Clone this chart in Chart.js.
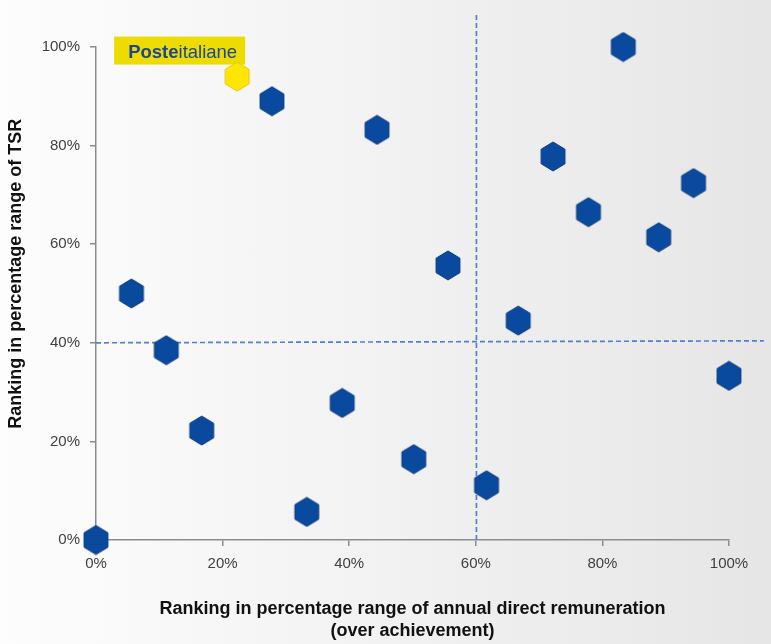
<!DOCTYPE html>
<html>
<head>
<meta charset="utf-8">
<script src="https://cdn.jsdelivr.net/npm/chart.js@4.4.1/dist/chart.umd.min.js"></script>
<style>
    html, body { margin: 0; padding: 0; }
    body {
        width: 771px; height: 644px; overflow: hidden;
        background: linear-gradient(to right, #fdfdfd 0%, #f3f3f3 45%, #e6e6e6 100%);
    }
    #wrap { position: relative; width: 771px; height: 644px; }
</style>
</head>
<body>
<div id="wrap"><canvas id="rankChart" width="771" height="644"></canvas></div>
<script>
// peers: ranking on remuneration (x) and TSR (y)
const peerRemuneration = [0, 0.056, 0.111, 0.167, 0.278, 0.333, 0.389, 0.444, 0.502, 0.556, 0.617, 0.667, 0.722, 0.778, 0.833, 0.889, 0.944, 1.0];
const peerTsr = [0, 0.50, 0.385, 0.222, 0.89, 0.057, 0.278, 0.832, 0.164, 0.557, 0.111, 0.445, 0.778, 0.665, 1.0, 0.614, 0.724, 0.333];

// Poste Italiane
const posteRemuneration = [0.223];
const posteTsr = [0.94];

// median reference lines
const tsrLineX = [0, 1.055];
const tsrLineY = [0.400, 0.404];
const remLineX = [0.601, 0.601];
const remLineY = [0, 1.069];

const tickValues = [0, 0.2, 0.4, 0.6, 0.8, 1.0];

const xTitle = ['Ranking in percentage range of annual direct remuneration', '(over achievement)'];
const yTitle = 'Ranking in percentage range of TSR';
const logoBold = 'Poste';
const logoLight = 'italiane';

const TITLE_FONT = 'bold 18px "Liberation Sans", Arial, sans-serif';

function makeHex(fill, stroke) {
    const c = document.createElement('canvas');
    c.width = 28; c.height = 31;
    const g = c.getContext('2d');
    const cx = 14, cy = 15.5, r = 14.5;
    g.beginPath();
    for (let i = 0; i < 6; i++) {
        const a = -Math.PI / 2 + i * Math.PI / 3;
        const px = cx + r * Math.cos(a) * 0.95;
        const py = cy + r * Math.sin(a);
        if (i === 0) g.moveTo(px, py); else g.lineTo(px, py);
    }
    g.closePath();
    g.fillStyle = fill;
    g.fill();
    g.lineWidth = 1;
    g.strokeStyle = stroke;
    g.stroke();
    return c;
}

const blueHex = makeHex('#0a4a9e', '#0a3a80');
const yellowHex = makeHex('#ffe600', '#e2c900');

function toPoints(xs, ys) {
    return xs.map((x, i) => ({ x: x, y: ys[i] }));
}

// logo next to the Poste Italiane point
const logoPlugin = {
    id: 'logoPlugin',
    beforeDatasetsDraw(chart) {
        const pt = chart.getDatasetMeta(1).data[0];
        if (!pt) return;
        const ctx = chart.ctx;
        ctx.save();
        ctx.fillStyle = '#eedc00';
        ctx.fillRect(pt.x - 123, pt.y - 40, 131, 28);
        ctx.textBaseline = 'alphabetic';
        ctx.fillStyle = '#1d4596';
        ctx.font = 'bold 18.5px "Liberation Sans", Arial, sans-serif';
        const startX = pt.x - 109;
        ctx.fillText(logoBold, startX, pt.y - 19);
        const w = ctx.measureText(logoBold).width;
        ctx.font = '18.5px "Liberation Sans", Arial, sans-serif';
        ctx.fillText(logoLight, startX + w, pt.y - 19);
        ctx.restore();
    }
};

// y title drawn slightly above axis centre, as in the source
const yTitlePlugin = {
    id: 'yTitlePlugin',
    afterDraw(chart) {
        const ctx = chart.ctx;
        const yScale = chart.scales.y;
        ctx.save();
        ctx.translate(16, yScale.getPixelForValue(0.54));
        ctx.rotate(-Math.PI / 2);
        ctx.font = TITLE_FONT;
        ctx.fillStyle = '#111';
        ctx.textAlign = 'center';
        ctx.textBaseline = 'middle';
        ctx.fillText(yTitle, 0, 0);
        ctx.restore();
    }
};

const pctLabel = v => Math.round(v * 100) + '%';

new Chart(document.getElementById('rankChart'), {
    type: 'scatter',
    data: {
        datasets: [
            {
                label: 'Peers',
                data: toPoints(peerRemuneration, peerTsr),
                pointStyle: blueHex,
                pointRadius: 14,
                clip: false
            },
            {
                label: 'Poste Italiane',
                data: toPoints(posteRemuneration, posteTsr),
                pointStyle: yellowHex,
                pointRadius: 14,
                clip: false
            },
            {
                label: 'TSR median',
                data: toPoints(tsrLineX, tsrLineY),
                showLine: true,
                borderColor: '#4f82cc',
                borderWidth: 1.7,
                borderDash: [5, 3],
                pointRadius: 0,
                clip: false
            },
            {
                label: 'Remuneration median',
                data: toPoints(remLineX, remLineY),
                showLine: true,
                borderColor: '#4f82cc',
                borderWidth: 1.7,
                borderDash: [5, 3],
                pointRadius: 0,
                clip: false
            }
        ]
    },
    options: {
        responsive: false,
        animation: false,
        layout: { padding: { top: 47, right: 42, bottom: 2, left: 0 } },
        plugins: {
            legend: { display: false },
            tooltip: { enabled: false }
        },
        scales: {
            x: {
                type: 'linear',
                min: 0, max: 1,
                afterBuildTicks: s => { s.ticks = tickValues.map(v => ({ value: v })); },
                afterFit: s => { s.height = 102; },
                border: { color: '#8c8c8c', width: 1.5 },
                grid: { drawOnChartArea: false, drawTicks: true, tickLength: 6, color: '#8c8c8c', lineWidth: 1.5 },
                ticks: {
                    padding: 9,
                    color: '#404040',
                    font: { family: '"Liberation Sans", Arial, sans-serif', size: 15 },
                    callback: pctLabel
                },
                title: {
                    display: true,
                    text: xTitle,
                    color: '#111',
                    font: { family: '"Liberation Sans", Arial, sans-serif', size: 18, weight: 'bold', lineHeight: 1.22 },
                    padding: { top: 0, bottom: 0 }
                }
            },
            y: {
                type: 'linear',
                min: 0, max: 1,
                afterBuildTicks: s => { s.ticks = tickValues.map(v => ({ value: v })); },
                afterFit: s => { s.width = 96; },
                border: { color: '#8c8c8c', width: 1.5 },
                grid: { drawOnChartArea: false, drawTicks: true, tickLength: 6, color: '#8c8c8c', lineWidth: 1.5 },
                ticks: {
                    padding: 10,
                    color: '#404040',
                    font: { family: '"Liberation Sans", Arial, sans-serif', size: 15 },
                    callback: pctLabel
                }
            }
        }
    },
    plugins: [logoPlugin, yTitlePlugin]
});
</script>
</body>
</html>
